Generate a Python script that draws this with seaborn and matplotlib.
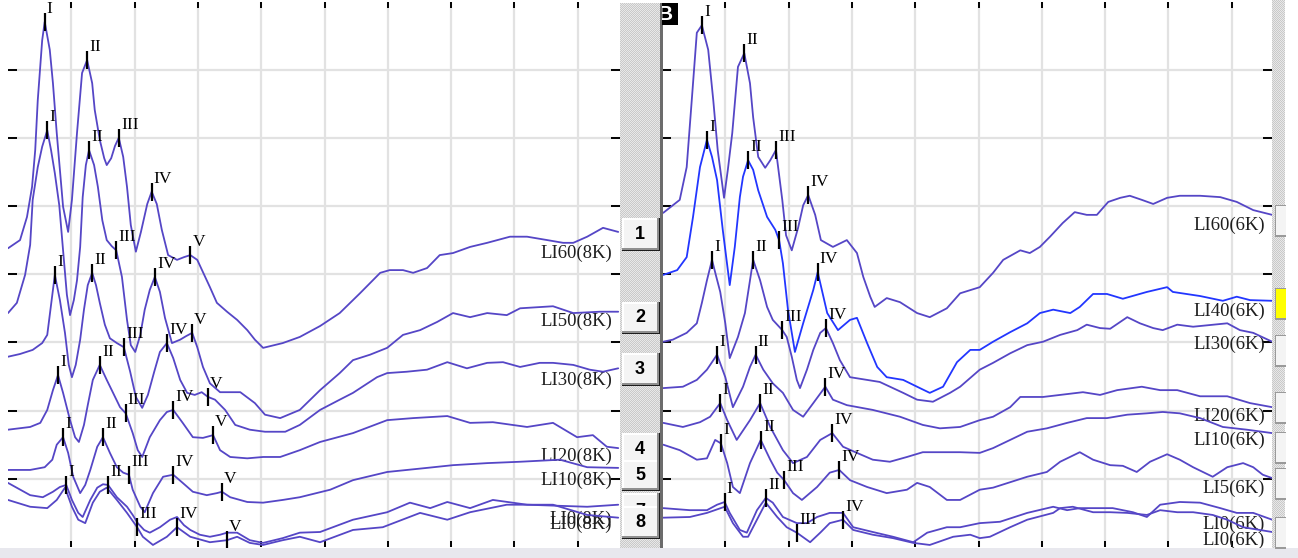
import numpy as np
import matplotlib
matplotlib.use("Agg")
import matplotlib.pyplot as plt
from matplotlib.patches import Rectangle
import seaborn as sns

# ---- waveform data: latency (ms) and amplitude (grid divisions) ----
# left panel, 8 kHz
li60_8k_t = [0.00, 0.19, 0.30, 0.38, 0.43, 0.47, 0.54, 0.58, 0.66, 0.71, 0.77, 0.82, 0.87, 0.95, 1.01, 1.09, 1.17, 1.25,
             1.33, 1.37, 1.45, 1.52, 1.56, 1.63, 1.69, 1.75, 1.82, 1.88, 1.94, 2.02, 2.10, 2.20, 2.27, 2.35, 2.43, 2.53,
             2.67, 2.78, 2.88, 2.99, 3.08, 3.19, 3.30, 3.46, 3.62, 3.78, 3.90, 4.03, 4.34, 4.61, 4.93, 5.24, 5.56, 5.88,
             6.03, 6.24, 6.40, 6.62, 6.82, 7.03, 7.30, 7.57, 7.93, 8.20, 8.52, 8.77, 8.93, 9.15, 9.40, 9.64]
li60_8k_a = [4.38, 4.50, 4.84, 5.28, 5.82, 6.55, 7.43, 7.70, 7.29, 6.80, 6.07, 5.53, 4.99, 4.62, 5.09, 6.07, 6.95, 7.14,
             6.80, 6.41, 5.97, 5.70, 5.60, 5.70, 5.88, 6.00, 5.72, 5.28, 4.72, 4.33, 4.62, 5.03, 5.21, 5.03, 4.65, 4.28,
             4.21, 4.25, 4.28, 4.21, 4.03, 3.81, 3.58, 3.45, 3.33, 3.18, 3.04, 2.92, 2.99, 3.08, 3.24, 3.43, 3.72, 4.02,
             4.06, 4.06, 4.02, 4.09, 4.28, 4.31, 4.40, 4.46, 4.55, 4.55, 4.50, 4.46, 4.46, 4.55, 4.68, 4.62]
li60_8k_peaks = {"I": 0.58, "II": 1.25, "III": 1.75, "IV": 2.27, "V": 2.88}

li50_8k_t = [0.00, 0.14, 0.27, 0.35, 0.39, 0.47, 0.54, 0.62, 0.68, 0.74, 0.81, 0.87, 0.93, 0.98, 1.04, 1.09, 1.14, 1.18,
             1.23, 1.28, 1.36, 1.42, 1.49, 1.56, 1.64, 1.71, 1.80, 1.88, 1.94, 2.01, 2.09, 2.16, 2.24, 2.32, 2.40, 2.48,
             2.59, 2.72, 2.81, 2.91, 2.99, 3.08, 3.19, 3.35, 3.67, 3.90, 4.06, 4.30, 4.61, 4.93, 5.24, 5.45, 5.72, 5.99,
             6.24, 6.51, 6.78, 7.03, 7.30, 7.57, 7.88, 8.09, 8.61, 8.93, 9.35, 9.64]
li50_8k_a = [3.43, 3.58, 3.99, 4.43, 5.09, 5.57, 5.87, 6.11, 5.82, 5.48, 5.01, 4.35, 3.70, 3.40, 3.62, 3.91, 4.40, 5.13,
             5.60, 5.82, 5.60, 5.28, 4.79, 4.50, 4.41, 4.35, 3.96, 3.33, 2.96, 2.86, 3.11, 3.48, 3.77, 3.96, 3.74, 3.36,
             2.99, 3.04, 3.09, 3.14, 2.93, 2.64, 2.40, 2.27, 2.27, 2.11, 1.94, 1.89, 2.01, 2.30, 2.55, 2.74, 2.82, 2.92,
             3.11, 3.18, 3.30, 3.43, 3.37, 3.43, 3.40, 3.50, 3.53, 3.43, 3.45, 3.45]
li50_8k_peaks = {"I": 0.62, "II": 1.28, "III": 1.71, "IV": 2.32, "V": 2.91}

li30_8k_t = [0.00, 0.19, 0.39, 0.54, 0.62, 0.68, 0.74, 0.82, 0.90, 0.96, 1.01, 1.07, 1.14, 1.20, 1.26, 1.33, 1.39, 1.45,
             1.53, 1.61, 1.72, 1.83, 1.93, 2.02, 2.12, 2.21, 2.31, 2.40, 2.51, 2.61, 2.72, 2.83, 2.95, 3.06, 3.16, 3.27,
             3.43, 3.59, 3.82, 4.06, 4.38, 4.61, 4.93, 5.24, 5.45, 5.83, 5.99, 6.30, 6.62, 6.94, 7.25, 7.57, 7.82, 8.09,
             8.40, 8.61, 8.93, 9.19, 9.40, 9.64]
li30_8k_a = [2.79, 2.83, 2.89, 2.99, 3.11, 3.55, 3.99, 3.62, 3.14, 2.67, 2.49, 2.67, 3.04, 3.48, 3.84, 4.02, 3.84, 3.58,
             3.26, 3.06, 2.99, 2.93, 2.57, 2.20, 2.04, 2.23, 2.57, 2.86, 2.99, 2.77, 2.45, 2.26, 2.23, 2.27, 2.20, 2.16,
             2.01, 1.79, 1.72, 1.69, 1.69, 1.79, 2.01, 2.16, 2.26, 2.49, 2.55, 2.57, 2.60, 2.71, 2.62, 2.70, 2.71, 2.64,
             2.70, 2.70, 2.67, 2.60, 2.57, 2.62]
li30_8k_peaks = {"I": 0.74, "II": 1.33, "III": 1.83, "IV": 2.51, "V": 3.16}

li20_8k_t = [0.00, 0.35, 0.51, 0.62, 0.71, 0.79, 0.87, 0.98, 1.06, 1.12, 1.20, 1.26, 1.34, 1.45, 1.56, 1.66, 1.77, 1.86,
             1.97, 2.05, 2.12, 2.24, 2.40, 2.51, 2.61, 2.76, 2.92, 3.08, 3.24, 3.35, 3.51, 3.78, 4.03, 4.30, 4.61, 4.93,
             5.45, 5.99, 6.40, 6.94, 7.30, 7.66, 8.20, 8.61, 8.99, 9.24, 9.46, 9.64]
li20_8k_a = [1.72, 1.76, 1.82, 2.01, 2.30, 2.52, 2.26, 1.86, 1.61, 1.54, 1.79, 2.08, 2.45, 2.67, 2.45, 2.26, 2.05, 1.96,
             1.67, 1.42, 1.32, 1.61, 1.86, 1.98, 2.01, 1.82, 1.61, 1.60, 1.64, 1.42, 1.32, 1.30, 1.32, 1.32, 1.42, 1.54,
             1.67, 1.86, 1.89, 1.92, 1.82, 1.83, 1.76, 1.82, 1.61, 1.64, 1.47, 1.45]
li20_8k_peaks = {"I": 0.79, "II": 1.45, "III": 1.86, "IV": 2.61, "V": 3.24}

li10_8k_t = [0.00, 0.35, 0.58, 0.70, 0.77, 0.87, 0.95, 1.03, 1.14, 1.22, 1.30, 1.41, 1.50, 1.61, 1.72, 1.82, 1.91, 1.97,
             2.09, 2.16, 2.29, 2.45, 2.61, 2.76, 2.92, 3.14, 3.30, 3.38, 3.51, 3.78, 4.03, 4.34, 4.61, 5.09, 5.45, 5.99,
             6.62, 7.03, 7.57, 8.09, 8.72, 9.15, 9.64]
li10_8k_a = [1.13, 1.13, 1.17, 1.28, 1.50, 1.61, 1.38, 1.03, 0.79, 0.91, 1.13, 1.47, 1.61, 1.38, 1.17, 1.09, 1.06, 0.84,
             0.59, 0.51, 0.79, 1.03, 1.06, 0.94, 0.81, 0.76, 0.79, 0.81, 0.73, 0.66, 0.65, 0.69, 0.73, 0.84, 0.98, 1.10,
             1.16, 1.20, 1.23, 1.25, 1.28, 1.17, 1.16]
li10_8k_peaks = {"I": 0.87, "II": 1.50, "III": 1.91, "IV": 2.61, "V": 3.38}

li0a_8k_t = [0.00, 0.35, 0.55, 0.71, 0.82, 0.92, 1.01, 1.11, 1.18, 1.30, 1.41, 1.50, 1.58, 1.72, 1.88, 1.97, 2.05, 2.15,
             2.24, 2.40, 2.56, 2.67, 2.78, 2.88, 3.03, 3.19, 3.35, 3.46, 3.62, 3.82, 4.03, 4.34, 4.61, 4.93, 5.45, 5.99,
             6.35, 6.67, 6.94, 7.30, 7.66, 8.20, 9.15, 9.64]
li0a_8k_a = [0.94, 0.76, 0.73, 0.81, 0.88, 0.91, 0.69, 0.50, 0.44, 0.69, 0.87, 0.92, 0.91, 0.73, 0.59, 0.47, 0.35, 0.25,
             0.21, 0.29, 0.40, 0.44, 0.32, 0.25, 0.18, 0.15, 0.18, 0.21, 0.21, 0.10, 0.06, 0.13, 0.21, 0.22, 0.40, 0.51,
             0.65, 0.57, 0.66, 0.57, 0.69, 0.62, 0.59, 0.62]
li0a_8k_peaks = {"I": 0.92, "II": 1.58}

li0b_8k_t = [0.00, 0.35, 0.62, 0.77, 0.90, 1.01, 1.11, 1.22, 1.34, 1.45, 1.56, 1.72, 1.88, 2.04, 2.13, 2.29, 2.51, 2.67,
             2.88, 3.19, 3.46, 3.62, 3.82, 4.03, 4.34, 4.61, 4.93, 5.45, 5.92, 6.51, 6.94, 7.30, 7.88, 8.61, 9.15, 9.64]
li0b_8k_a = [0.69, 0.59, 0.57, 0.69, 0.87, 0.59, 0.40, 0.35, 0.65, 0.81, 0.87, 0.69, 0.50, 0.29, 0.15, 0.03, 0.15, 0.29,
             0.15, 0.07, 0.10, 0.15, 0.06, 0.03, 0.10, 0.15, 0.07, 0.25, 0.29, 0.50, 0.40, 0.51, 0.62, 0.62, 0.47, 0.43]
li0b_8k_peaks = {"III": 2.04, "IV": 2.67, "V": 3.46}

# right panel, 6 kHz
li60_6k_t = [0.02, 0.28, 0.39, 0.47, 0.55, 0.63, 0.73, 0.81, 0.88, 0.98, 1.04, 1.11, 1.20, 1.30, 1.39, 1.44, 1.52, 1.63,
             1.71, 1.80, 1.90, 1.96, 2.05, 2.15, 2.23, 2.31, 2.42, 2.51, 2.70, 2.92, 3.08, 3.18, 3.29, 3.36, 3.55, 3.76,
             4.03, 4.23, 4.50, 4.71, 5.02, 5.23, 5.39, 5.66, 5.81, 5.97, 6.13, 6.33, 6.52, 6.71, 6.87, 7.05, 7.24, 7.39,
             7.58, 7.76, 7.98, 8.18, 8.50, 8.82, 9.08, 9.34, 9.64]
li60_6k_a = [4.90, 5.09, 5.57, 6.55, 7.54, 7.65, 7.29, 6.55, 5.82, 5.12, 5.53, 6.07, 7.04, 7.24, 6.80, 6.30, 5.72, 5.56,
             5.67, 5.82, 5.09, 4.57, 4.35, 4.68, 5.01, 5.16, 4.87, 4.50, 4.40, 4.50, 4.31, 3.96, 3.67, 3.52, 3.65, 3.59,
             3.43, 3.37, 3.50, 3.72, 3.81, 4.02, 4.21, 4.35, 4.31, 4.40, 4.55, 4.75, 4.91, 4.87, 4.87, 5.06, 5.12, 5.15,
             5.09, 5.03, 5.12, 5.15, 5.15, 5.13, 5.06, 4.94, 4.87]
li60_6k_peaks = {"I": 0.63, "II": 1.30, "III": 1.80, "IV": 2.31}

li40_6k_t = [0.02, 0.24, 0.39, 0.49, 0.60, 0.71, 0.79, 0.87, 0.96, 1.07, 1.15, 1.23, 1.28, 1.36, 1.44, 1.52, 1.66, 1.79,
             1.85, 1.91, 1.99, 2.10, 2.23, 2.39, 2.46, 2.61, 2.78, 2.97, 3.08, 3.24, 3.40, 3.55, 3.81, 4.03, 4.23, 4.44,
             4.66, 4.87, 5.02, 5.23, 5.50, 5.77, 5.97, 6.18, 6.45, 6.60, 6.81, 7.03, 7.28, 7.66, 7.98, 8.07, 8.50, 8.86,
             9.08, 9.29, 9.64]
li40_6k_a = [3.99, 4.06, 4.25, 4.84, 5.57, 5.97, 5.72, 5.38, 4.65, 3.84, 4.40, 5.13, 5.43, 5.67, 5.53, 5.23, 4.84, 4.65,
             4.50, 4.16, 3.48, 2.86, 3.28, 3.77, 4.03, 3.43, 3.18, 3.33, 3.36, 2.99, 2.64, 2.49, 2.45, 2.35, 2.26, 2.35,
             2.71, 2.89, 2.89, 3.01, 3.15, 3.28, 3.43, 3.48, 3.43, 3.52, 3.71, 3.71, 3.64, 3.74, 3.81, 3.74, 3.68, 3.61,
             3.67, 3.62, 3.61]
li40_6k_peaks = {"I": 0.71, "II": 1.36, "III": 1.85, "IV": 2.46}

li30_6k_t = [0.02, 0.17, 0.39, 0.55, 0.63, 0.71, 0.79, 0.85, 0.92, 1.00, 1.07, 1.20, 1.31, 1.39, 1.44, 1.55, 1.66, 1.75,
             1.90, 1.97, 2.05, 2.13, 2.18, 2.29, 2.39, 2.50, 2.59, 2.70, 2.81, 2.97, 3.24, 3.44, 3.81, 4.03, 4.28, 4.55,
             4.71, 5.02, 5.23, 5.50, 5.77, 6.02, 6.29, 6.56, 6.71, 6.92, 7.08, 7.35, 7.55, 7.76, 7.91, 8.14, 8.39, 8.93,
             9.13, 9.34, 9.64]
li30_6k_a = [3.01, 3.04, 3.14, 3.28, 3.58, 3.91, 4.21, 3.99, 3.74, 3.28, 2.77, 3.08, 3.43, 3.91, 4.21, 3.91, 3.52, 3.33,
             3.18, 3.08, 2.79, 2.45, 2.33, 2.60, 2.89, 3.14, 3.21, 2.99, 2.74, 2.49, 2.45, 2.42, 2.26, 2.16, 2.13, 2.26,
             2.35, 2.60, 2.70, 2.84, 2.96, 3.01, 3.11, 3.18, 3.26, 3.21, 3.20, 3.37, 3.28, 3.21, 3.18, 3.26, 3.23, 3.28,
             3.18, 3.14, 3.01]
li30_6k_peaks = {"I": 0.79, "II": 1.44, "III": 1.90, "IV": 2.59}

li20_6k_t = [0.02, 0.33, 0.55, 0.71, 0.87, 1.00, 1.12, 1.28, 1.39, 1.48, 1.60, 1.75, 1.91, 2.07, 2.23, 2.39, 2.58, 2.70,
             2.92, 3.33, 3.76, 4.12, 4.39, 4.71, 5.02, 5.23, 5.50, 5.66, 6.02, 6.29, 6.65, 6.92, 7.19, 7.58, 7.87, 8.14,
             8.50, 8.93, 9.29, 9.64]
li20_6k_a = [2.33, 2.35, 2.45, 2.60, 2.82, 2.49, 2.05, 2.35, 2.64, 2.82, 2.60, 2.40, 2.26, 2.01, 1.91, 2.11, 2.35, 2.16,
             2.08, 2.01, 1.91, 1.79, 1.74, 1.76, 1.86, 1.91, 2.05, 2.20, 2.20, 2.23, 2.27, 2.23, 2.30, 2.35, 2.30, 2.30,
             2.21, 2.21, 2.11, 2.05]
li20_6k_peaks = {"I": 0.87, "II": 1.48, "IV": 2.58}

li10_6k_t = [0.02, 0.33, 0.60, 0.76, 0.92, 1.03, 1.18, 1.39, 1.55, 1.71, 1.91, 2.07, 2.29, 2.50, 2.69, 2.86, 3.08, 3.33,
             3.60, 3.87, 4.12, 4.71, 5.02, 5.23, 5.50, 5.77, 6.08, 6.40, 6.71, 7.03, 7.35, 7.66, 7.91, 8.18, 8.50, 8.86,
             9.24, 9.64]
li10_6k_a = [1.82, 1.76, 1.83, 1.91, 2.11, 1.86, 1.57, 1.86, 2.11, 1.76, 1.42, 1.23, 1.32, 1.57, 1.67, 1.47, 1.38, 1.28,
             1.25, 1.32, 1.39, 1.39, 1.38, 1.45, 1.57, 1.69, 1.74, 1.82, 1.89, 1.89, 1.94, 1.96, 1.98, 1.96, 1.89, 1.76,
             1.72, 1.67]
li10_6k_peaks = {"I": 0.92, "II": 1.55, "IV": 2.69}

li5_6k_t = [0.02, 0.28, 0.55, 0.71, 0.84, 0.93, 1.03, 1.12, 1.23, 1.39, 1.56, 1.71, 1.82, 1.93, 2.07, 2.21, 2.45, 2.65,
            2.80, 2.97, 3.24, 3.55, 3.87, 4.03, 4.23, 4.50, 4.71, 5.02, 5.23, 5.50, 5.77, 6.08, 6.29, 6.60, 6.81, 7.08,
            7.28, 7.50, 7.71, 7.98, 8.18, 8.39, 8.70, 8.93, 9.18, 9.34, 9.49, 9.64]
li5_6k_a = [1.50, 1.42, 1.28, 1.30, 1.57, 1.52, 1.23, 0.88, 0.79, 1.23, 1.57, 1.28, 1.09, 0.98, 0.79, 0.69, 0.88, 1.09,
            1.13, 0.98, 0.88, 0.79, 0.84, 0.94, 0.88, 0.69, 0.69, 0.84, 0.87, 0.95, 1.03, 1.10, 1.25, 1.39, 1.28, 1.20,
            1.19, 1.10, 1.25, 1.36, 1.28, 1.17, 1.03, 1.17, 1.23, 1.17, 1.06, 1.01]
li5_6k_peaks = {"I": 0.93, "II": 1.56, "III": 1.93, "IV": 2.80}

li0a_6k_t = [0.02, 0.44, 0.71, 0.87, 0.99, 1.07, 1.23, 1.34, 1.50, 1.64, 1.75, 1.91, 2.13, 2.29, 2.45, 2.65, 2.86, 3.02,
             3.33, 3.65, 3.97, 4.19, 4.50, 4.71, 5.02, 5.34, 5.77, 6.18, 6.40, 6.60, 6.81, 7.12, 7.44, 7.66, 7.87, 8.18,
             8.50, 8.82, 9.08, 9.34, 9.64]
li0a_6k_a = [0.57, 0.54, 0.54, 0.62, 0.66, 0.50, 0.25, 0.21, 0.54, 0.72, 0.65, 0.44, 0.35, 0.35, 0.44, 0.50, 0.50, 0.29,
             0.22, 0.15, 0.07, 0.21, 0.29, 0.29, 0.35, 0.37, 0.50, 0.59, 0.54, 0.57, 0.57, 0.57, 0.51, 0.44, 0.62, 0.66,
             0.65, 0.57, 0.50, 0.50, 0.40]
li0a_6k_peaks = {"I": 0.99, "II": 1.64}

li0b_6k_t = [0.02, 0.44, 0.71, 0.99, 1.12, 1.28, 1.36, 1.50, 1.64, 1.82, 1.97, 2.13, 2.34, 2.50, 2.65, 2.86, 3.02, 3.33,
             3.65, 3.97, 4.23, 4.60, 4.87, 5.02, 5.18, 5.50, 5.77, 6.18, 6.29, 6.49, 6.81, 7.08, 7.35, 7.66, 7.87, 8.14,
             8.39, 8.70, 8.93, 9.18, 9.64]
li0b_6k_a = [0.43, 0.44, 0.50, 0.59, 0.35, 0.15, 0.15, 0.40, 0.65, 0.44, 0.29, 0.21, 0.07, 0.21, 0.35, 0.40, 0.25, 0.18,
             0.13, 0.06, 0.03, 0.15, 0.18, 0.13, 0.15, 0.29, 0.40, 0.50, 0.57, 0.59, 0.51, 0.51, 0.50, 0.47, 0.54, 0.51,
             0.51, 0.47, 0.40, 0.29, 0.22]
li0b_6k_peaks = {"III": 2.13, "IV": 2.86}

left_labels = ["LI60(8K)", "LI50(8K)", "LI30(8K)", "LI20(8K)", "LI10(8K)", "LI0(8K)", "LI0(8K)"]
right_labels = ["LI60(6K)", "LI40(6K)", "LI30(6K)", "LI20(6K)", "LI10(6K)", "LI5(6K)", "LI0(6K)", "LI0(6K)"]

left_traces = [(li60_8k_t, li60_8k_a, li60_8k_peaks), (li50_8k_t, li50_8k_a, li50_8k_peaks),
               (li30_8k_t, li30_8k_a, li30_8k_peaks), (li20_8k_t, li20_8k_a, li20_8k_peaks),
               (li10_8k_t, li10_8k_a, li10_8k_peaks), (li0a_8k_t, li0a_8k_a, li0a_8k_peaks),
               (li0b_8k_t, li0b_8k_a, li0b_8k_peaks)]
right_traces = [(li60_6k_t, li60_6k_a, li60_6k_peaks), (li40_6k_t, li40_6k_a, li40_6k_peaks),
                (li30_6k_t, li30_6k_a, li30_6k_peaks), (li20_6k_t, li20_6k_a, li20_6k_peaks),
                (li10_6k_t, li10_6k_a, li10_6k_peaks), (li5_6k_t, li5_6k_a, li5_6k_peaks),
                (li0a_6k_t, li0a_6k_a, li0a_6k_peaks), (li0b_6k_t, li0b_6k_a, li0b_6k_peaks)]

# ---- layout (pixels) ----
W, H = 1298, 558
MS_PX = 63.3
DIV_PX = 68.2
TRACE = "#5546c6"
HILITE = "#2236ff"
left_drop = [21, 10, 12, 8, 12, 15, 7]       # label offset below trace end, px
right_drop = [10, 11, 3, 9, 7, 10, 5, 8]

sns.set_theme(style="white")
plt.rcParams["font.family"] = ["Liberation Serif", "DejaVu Serif"]

fig = plt.figure(figsize=(W / 100, H / 100), dpi=100)
fig.patch.set_facecolor("white")


def box(x0, y0, x1, y1):
    return (x0 / W, 1 - y1 / H, (x1 - x0) / W, (y1 - y0) / H)


def rect(x0, y0, x1, y1, color, z=2):
    bx = box(x0, y0, x1, y1)
    r = Rectangle(bx[:2], bx[2], bx[3], transform=fig.transFigure, facecolor=color,
                  edgecolor="none", lw=0, zorder=z)
    fig.add_artist(r)
    return r


def style_panel(ax, width_px):
    ax.set_xlim(0, width_px / MS_PX)
    ax.set_ylim(0, 545 / DIV_PX)
    ax.set_xticks(np.arange(1, 10))
    ax.set_yticks(np.arange(1, 8))
    ax.set_xticklabels([])
    ax.set_yticklabels([])
    ax.grid(True, color="#e2e2e2", lw=1.6)
    ax.set_axisbelow(True)
    ax.tick_params(axis="x", direction="in", length=4, width=1.4, color="black", top=True, bottom=True)
    ax.tick_params(axis="y", direction="in", length=6.5, width=1.4, color="black", left=True, right=True)
    for s in ax.spines.values():
        s.set_visible(False)
    ax.set_facecolor("white")


def draw_panel(ax, traces, labels, drops, label_x, colors):
    for (t, a, peaks), lab, drop, col in zip(traces, labels, drops, colors):
        sns.lineplot(x=t, y=a, ax=ax, color=col, lw=1.3, sort=False, estimator=None, zorder=3)
        for name, lat in peaks.items():
            amp = np.interp(lat, t, a)
            ax.plot(lat, amp, marker="|", ms=13, mew=1.6, color="black", ls="none", zorder=4)
            ax.annotate(name, (lat, amp), xytext=(1.5, 6.5), textcoords="offset points",
                        ha="left", va="baseline", fontsize=12.5, color="black", zorder=5)
        ax.annotate(lab, (label_x, a[-1]), xytext=(0, -drop * 0.72), textcoords="offset points",
                    ha="right", va="center", fontsize=13.5, color="#1e1e1e", zorder=2)
    ax.set_xlabel("")
    ax.set_ylabel("")


ax_l = fig.add_axes(box(8, 2, 620, 547))
ax_r = fig.add_axes(box(662, 2, 1272, 547))
style_panel(ax_l, 612)
style_panel(ax_r, 610)
draw_panel(ax_l, left_traces, left_labels, left_drop, (612 - 8) / MS_PX, [TRACE] * 7)
draw_panel(ax_r, right_traces, right_labels, right_drop, (1265 - 662) / MS_PX,
           [TRACE, HILITE] + [TRACE] * 6)

# ---- window chrome ----
rect(0, 548, W, H, "#e8e8ee", z=1)

yy, xx = np.indices((545, 42))
dither = np.where((xx + yy) % 2 == 0, 0.79, 0.91)
fig.figimage(np.dstack([dither] * 3), xo=620, yo=H - 548, zorder=1)
yy, xx = np.indices((548, 13))
dither2 = np.where((xx + yy) % 2 == 0, 0.79, 0.91)
fig.figimage(np.dstack([dither2] * 3), xo=1272, yo=H - 548, zorder=1)
rect(660, 3, 663, 548, "#6c6c6c", z=2)


def button(x0, y0, x1, y1, text, z):
    rect(x0, y0, x1, y1, "#1c1c1c", z=z)
    rect(x0, y0, x1 - 1.5, y1 - 1.5, "#8f8f8f", z=z)
    rect(x0, y0, x1 - 3, y1 - 3, "#ffffff", z=z)
    face = rect(x0 + 1.5, y0 + 1.5, x1 - 3, y1 - 3, "#f4f4f4", z=z)
    txt = fig.text(((x0 + x1) / 2 - 1) / W, 1 - ((y0 + y1) / 2) / H, text, ha="center", va="center",
                   fontsize=13, fontweight="bold", family="Liberation Sans", color="black", zorder=z + 0.01)
    txt.set_clip_path(face)


# button 7 sits mostly behind button 8, only its top edge shows
for i, (num, y0, y1) in enumerate([("1", 218, 251), ("2", 302, 334), ("3", 353, 386), ("4", 433, 465),
                                   ("5", 460, 491), ("7", 493, 531), ("8", 506, 539)]):
    button(622, y0, 660, y1, num, z=3 + 0.1 * i)

for y0, y1, face in [(205, 237, "#f4f4f4"), (288, 320, "#ffff00"), (335, 367, "#f4f4f4"),
                     (392, 424, "#f4f4f4"), (432, 464, "#f4f4f4"), (468, 500, "#f4f4f4"),
                     (517, 549, "#f4f4f4")]:
    rect(1275, y0, 1286, y1, "#9a9a9a", z=3)
    rect(1276, y0 + 1, 1286, y1 - 2, face, z=3)
rect(1286, 0, W, 548, "white", z=3)

# "B" tag at the top-left of the right panel
tag = rect(662, 3, 678, 25, "black", z=6)
b = fig.text(665 / W, 1 - 14.5 / H, "B", ha="center", va="center", fontsize=15, fontweight="bold",
             family="Liberation Sans", color="white", zorder=7)
b.set_clip_path(tag)

fig.savefig("out.png", dpi=100, facecolor="white")
